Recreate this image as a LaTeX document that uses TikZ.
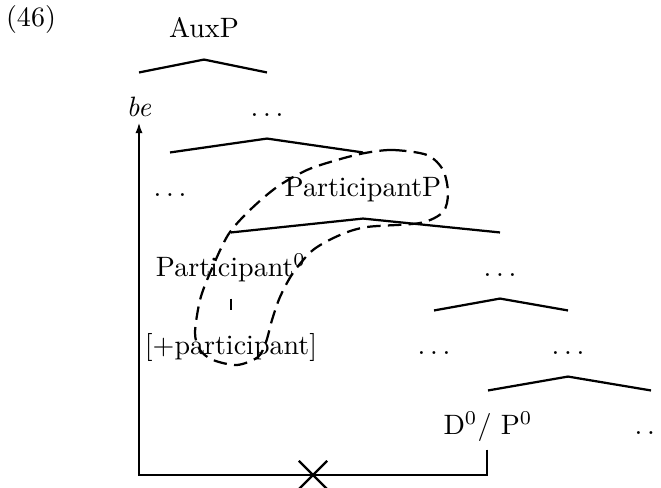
\documentclass[tikz,border=0pt]{standalone}
\usetikzlibrary{shapes.misc,arrows.meta}
\begin{document}
\begin{tikzpicture}[x=0.357pt, y=-0.357pt,
  lab/.style={anchor=base, inner sep=0pt, text height=15.7pt, text depth=7.5pt},
  branch/.style={thick},
  feat/.style={thick, dash pattern=on 4.8pt off 2.6pt},
  cut/.style={draw, thick, cross out, inner sep=0pt, minimum size=9.3pt}
]
  \useasboundingbox (0,0) rectangle (661,488);
  \node[anchor=base] (ex) at (31,27) {(46)};
  % tree labels
  \node[lab] (auxp) at (204,38) {AuxP};
  \node[lab] (be) at (139,117) {\textit{be}};
  \node[lab] (d1) at (267,117) {$\ldots$};
  \node[lab] (d2) at (170,197) {$\ldots$};
  \node[lab] (partp) at (363,197) {ParticipantP};
  \node[lab] (part0) at (231,277) {Participant$^0$};
  \node[lab] (d3) at (500,277) {$\ldots$};
  \node[lab] (plus) at (231,355) {[+participant]};
  \node[lab] (d4) at (434,355) {$\ldots$};
  \node[lab] (d5) at (568,355) {$\ldots$};
  \node[lab] (dp) at (488,435) {D$^0$/ P$^0$};
  \node[lab] (d6) at (651,435) {$\ldots$};
  % branches
  \draw[branch] (be.north) -- (auxp.south) -- (d1.north);
  \draw[branch] (d2.north) -- (d1.south) -- (partp.north);
  \draw[branch] (part0.north) -- (partp.south) -- (d3.north);
  \draw[branch] (d4.north) -- (d3.south) -- (d5.north);
  \draw[branch] (dp.north) -- (d5.south) -- (d6.north);
  \draw[feat] (part0.south) -- (plus.north);
  % feature loop
  \draw[feat] plot[smooth cycle] coordinates {
    (365,153) (393,150) (427,155) (443,170) (448,193) (443,212) (420,223)
    (367,227) (340,235) (313,250) (293,273) (280,297) (272,320) (266,342)
    (258,357) (237,365) (213,360) (200,350) (195,333) (200,300) (210,273)
    (228,235) (250,210) (277,187) (307,170) (337,160)};
  % blocked movement
  \node[cut] (cut) at (313,475) {};
  \draw[thick, -{Latex[length=4pt,width=2.6pt]}] ([xshift=-0.4pt,yshift=2.5pt]dp.south)
    |- (cut.center) -| ([yshift=-1.8pt]be.base);
\end{tikzpicture}
\end{document}
